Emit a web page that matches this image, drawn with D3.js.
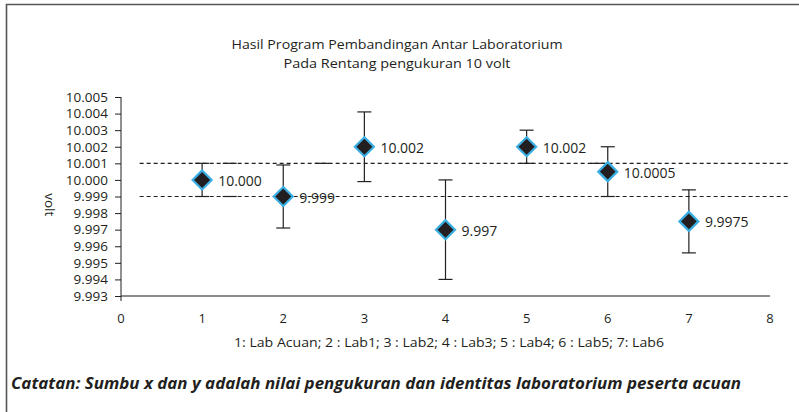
<!DOCTYPE html>
<html>
<head>
<meta charset="utf-8">
<script src="https://cdn.jsdelivr.net/npm/d3@7"></script>
<style>
  html, body { margin: 0; padding: 0; background: #fff; }
  svg { display: block; }
  text { fill: #231f20; font-family: "Open Sans", "Noto Sans", sans-serif; }
</style>
</head>
<body>
<svg id="chart" width="799" height="412"></svg>
<script>
// ---- data ----
const titleLines = ["Hasil Program Pembandingan Antar Laboratorium", "Pada Rentang pengukuran 10 volt"];
const labIds = [1, 2, 3, 4, 5, 6, 7];
const values = [10.000, 9.999, 10.002, 9.997, 10.002, 10.0005, 9.9975];
const uncertainties = [0.001, 0.0019, 0.0021, 0.003, 0.001, 0.0015, 0.0019];
const valueLabels = ["10.000", "9.999", "10.002", "9.997", "10.002", "10.0005", "9.9975"];
const yTickValues = [9.993, 9.994, 9.995, 9.996, 9.997, 9.998, 9.999, 10.000, 10.001, 10.002, 10.003, 10.004, 10.005];
const yTickLabels = ["9.993", "9.994", "9.995", "9.996", "9.997", "9.998", "9.999", "10.000", "10.001", "10.002", "10.003", "10.004", "10.005"];
const xTickValues = [0, 1, 2, 3, 4, 5, 6, 7, 8];
const limitValues = [10.001, 9.999];
const limitExtent = [0.23, 8.22];
const extraCapX = [1.34, 1.34, 2.48, 5.87];
const extraCapY = [10.001, 9.999, 10.001, 10.001];
const xAxisTitle = "1: Lab Acuan; 2 : Lab1; 3 : Lab2; 4 : Lab3; 5 : Lab4; 6 : Lab5; 7: Lab6";
const yAxisTitle = "volt";
const note = "Catatan: Sumbu x dan y adalah nilai pengukuran dan identitas laboratorium peserta acuan";

// ---- layout ----
const svg = d3.select("#chart");
svg.append("rect").attr("width", 799).attr("height", 412).attr("fill", "#fff");

// frame
svg.append("path")
  .attr("d", "M6.5,413 L6.5,4.5 L800,4.5")
  .attr("fill", "none").attr("stroke", "#555").attr("stroke-width", 1.6);

const x = d3.scaleLinear().domain([0, 8]).range([121, 770]);
const y = d3.scaleLinear().domain([9.993, 10.005]).range([296, 97]);

// title
svg.append("g").selectAll("text").data(titleLines).join("text")
  .attr("x", 397).attr("y", (d, i) => 49 + i * 18.5)
  .attr("text-anchor", "middle").attr("font-size", 13.5)
  .attr("textLength", (d, i) => i === 0 ? 331 : 227).attr("lengthAdjust", "spacingAndGlyphs")
  .text(d => d);

// x axis line (no ticks)
svg.append("line")
  .attr("x1", x(0)).attr("x2", x(8)).attr("y1", y(9.993)).attr("y2", y(9.993))
  .attr("stroke", "#666").attr("stroke-width", 1.3);

// x tick labels
svg.append("g").selectAll("text").data(xTickValues).join("text")
  .attr("x", d => x(d)).attr("y", 323)
  .attr("text-anchor", "middle").attr("font-size", 13)
  .text(d => d);

// y axis
const yAxis = d3.axisLeft(y)
  .tickValues(yTickValues)
  .tickFormat((d, i) => yTickLabels[i])
  .tickSizeInner(6).tickSizeOuter(0).tickPadding(7);
const gy = svg.append("g").attr("transform", `translate(${x(0)},0)`).call(yAxis);
gy.select(".domain").attr("stroke", "#231f20").attr("d", `M0,${y(10.005)}V${y(9.993) + 5}`);
gy.selectAll(".tick line").attr("stroke", "#231f20");
gy.selectAll(".tick text").attr("font-size", 13.5).attr("fill", "#231f20")
  .attr("font-family", '"Open Sans", "Noto Sans", sans-serif');

// y title
svg.append("text")
  .attr("transform", `translate(45,${y(9.9985)}) rotate(90)`)
  .attr("text-anchor", "middle").attr("font-size", 13.5)
  .text(yAxisTitle);

// x title
svg.append("text")
  .attr("x", 449).attr("y", 347)
  .attr("text-anchor", "middle").attr("font-size", 13)
  .attr("textLength", 430).attr("lengthAdjust", "spacingAndGlyphs")
  .text(xAxisTitle);

// dashed limit lines
svg.append("g").selectAll("line").data(limitValues).join("line")
  .attr("x1", x(limitExtent[0])).attr("x2", x(limitExtent[1]))
  .attr("y1", d => y(d)).attr("y2", d => y(d))
  .attr("stroke", "#231f20").attr("stroke-width", 1.2)
  .attr("stroke-dasharray", "4,3");

// extra short solid segments on the limit lines
svg.append("g").selectAll("line").data(extraCapX).join("line")
  .attr("x1", d => x(d) - 7).attr("x2", d => x(d) + 7)
  .attr("y1", (d, i) => y(extraCapY[i])).attr("y2", (d, i) => y(extraCapY[i]))
  .attr("stroke", "#231f20").attr("stroke-width", 1.2);

// error bars
const pts = labIds.map((id, i) => ({ id, v: values[i], u: uncertainties[i], label: valueLabels[i] }));
const eb = svg.append("g").attr("stroke", "#231f20").attr("stroke-width", 1.2);
eb.selectAll("line.v").data(pts).join("line").attr("class", "v")
  .attr("x1", d => x(d.id)).attr("x2", d => x(d.id))
  .attr("y1", d => y(d.v - d.u)).attr("y2", d => y(d.v + d.u));
eb.selectAll("line.t").data(pts).join("line").attr("class", "t")
  .attr("x1", d => x(d.id) - 7).attr("x2", d => x(d.id) + 7)
  .attr("y1", d => y(d.v + d.u)).attr("y2", d => y(d.v + d.u));
eb.selectAll("line.b").data(pts).join("line").attr("class", "b")
  .attr("x1", d => x(d.id) - 7).attr("x2", d => x(d.id) + 7)
  .attr("y1", d => y(d.v - d.u)).attr("y2", d => y(d.v - d.u));

// markers
const diamond = d3.symbol().type(d3.symbolDiamond2).size(230);
svg.append("g").selectAll("path").data(pts).join("path")
  .attr("transform", d => `translate(${x(d.id)},${y(d.v)})`)
  .attr("d", diamond)
  .attr("fill", "#231f20").attr("stroke", "#3aaee2").attr("stroke-width", 2.2);

// value labels
svg.append("g").selectAll("text").data(pts).join("text")
  .attr("x", d => x(d.id) + 16).attr("y", d => y(d.v) + 6)
  .attr("font-size", 14)
  .text(d => d.label);

// note
svg.append("text")
  .attr("x", 11).attr("y", 389)
  .attr("font-size", 15.5).attr("font-weight", "bold").attr("font-style", "italic")
  .attr("textLength", 730).attr("lengthAdjust", "spacingAndGlyphs")
  .text(note);
</script>
</body>
</html>
